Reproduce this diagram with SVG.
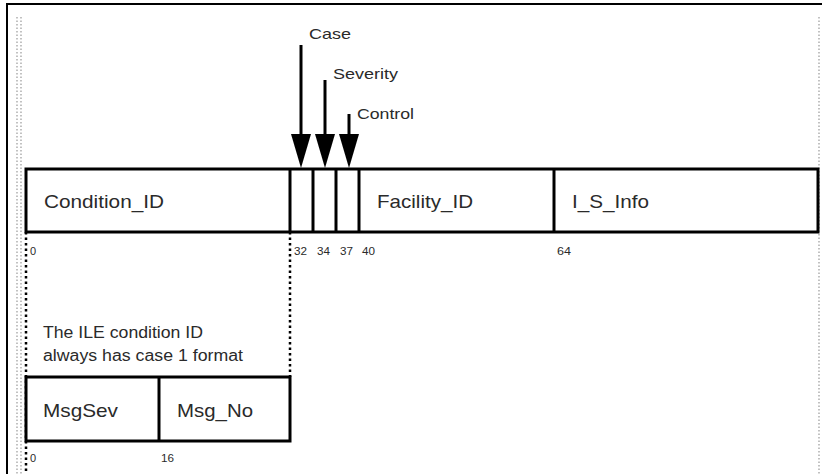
<svg xmlns="http://www.w3.org/2000/svg" width="822" height="474" viewBox="0 0 822 474">
<style>
text{font-family:"Liberation Sans",Arial,sans-serif;fill:#2a2a2a}
.lbl{font-size:19px}
.num{font-size:11px}
.arr{font-size:15px}
.note{font-size:16px}
.box{fill:#fff;stroke:#000;stroke-width:3}
.div{stroke:#000;stroke-width:3}
.grid{stroke:#999;stroke-width:1.2;stroke-dasharray:1.5 2}
.dot{stroke:#000;stroke-width:2.5;stroke-dasharray:2.5 3}
.shaft{stroke:#000;stroke-width:3}
.head{fill:#000}
</style>
<rect width="822" height="474" fill="#fff"/>
<path d="M7,474 V4 H822" fill="none" stroke="#000" stroke-width="2"/>
<g id="frame">
<line class="grid" x1="17" y1="17" x2="17" y2="474"/>
<line class="grid" x1="21" y1="17" x2="21" y2="474"/>
<line class="grid" x1="819" y1="17" x2="819" y2="474"/>
</g>
<g id="connectors">
<line class="dot" x1="26" y1="232" x2="26" y2="474"/>
<line class="dot" x1="290" y1="232" x2="290" y2="377"/>
<line class="shaft" x1="301" y1="45" x2="301" y2="134"/>
<path class="head" d="M291,134 L311,134 L301,168 Z"/>
<line class="shaft" x1="325" y1="80" x2="325" y2="134"/>
<path class="head" d="M315,134 L335,134 L325,168 Z"/>
<line class="shaft" x1="349" y1="114" x2="349" y2="134"/>
<path class="head" d="M339,134 L359,134 L349,168 Z"/>
</g>
<g id="arrow-labels">
<text class="arr" x="309" y="39" textLength="42" lengthAdjust="spacingAndGlyphs">Case</text>
<text class="arr" x="333" y="79" textLength="65" lengthAdjust="spacingAndGlyphs">Severity</text>
<text class="arr" x="357" y="119" textLength="57" lengthAdjust="spacingAndGlyphs">Control</text>
</g>
<g id="condition-bar">
<rect class="box" x="26" y="169" width="792" height="63"/>
<line class="div" x1="290" y1="169" x2="290" y2="232"/>
<line class="div" x1="313" y1="169" x2="313" y2="232"/>
<line class="div" x1="336" y1="169" x2="336" y2="232"/>
<line class="div" x1="359" y1="169" x2="359" y2="232"/>
<line class="div" x1="554" y1="169" x2="554" y2="232"/>
</g>
<g id="condition-id"><text class="lbl" x="44" y="208" textLength="120" lengthAdjust="spacingAndGlyphs">Condition_ID</text></g>
<g id="facility-id"><text class="lbl" x="377" y="208" textLength="96" lengthAdjust="spacingAndGlyphs">Facility_ID</text></g>
<g id="is-info"><text class="lbl" x="572" y="208" textLength="77" lengthAdjust="spacingAndGlyphs">I_S_Info</text></g>
<g id="bit-numbers">
<text class="num" x="30" y="255">0</text>
<text class="num" x="294" y="255" textLength="13" lengthAdjust="spacingAndGlyphs">32</text>
<text class="num" x="317" y="255" textLength="13" lengthAdjust="spacingAndGlyphs">34</text>
<text class="num" x="340" y="255" textLength="13" lengthAdjust="spacingAndGlyphs">37</text>
<text class="num" x="362" y="255" textLength="13" lengthAdjust="spacingAndGlyphs">40</text>
<text class="num" x="557" y="255" textLength="14" lengthAdjust="spacingAndGlyphs">64</text>
</g>
<g id="note">
<text class="note" x="43" y="338" textLength="160" lengthAdjust="spacingAndGlyphs">The ILE condition ID</text>
<text class="note" x="43" y="361" textLength="200" lengthAdjust="spacingAndGlyphs">always has case 1 format</text>
</g>
<g id="msg-bar">
<rect class="box" x="26" y="377" width="264" height="64"/>
<line class="div" x1="159" y1="377" x2="159" y2="441"/>
</g>
<g id="msgsev"><text class="lbl" x="43" y="417" textLength="75" lengthAdjust="spacingAndGlyphs">MsgSev</text></g>
<g id="msgno"><text class="lbl" x="177" y="417" textLength="76" lengthAdjust="spacingAndGlyphs">Msg_No</text></g>
<g id="msg-numbers">
<text class="num" x="30" y="462">0</text>
<text class="num" x="161" y="462" textLength="13" lengthAdjust="spacingAndGlyphs">16</text>
</g>
</svg>
